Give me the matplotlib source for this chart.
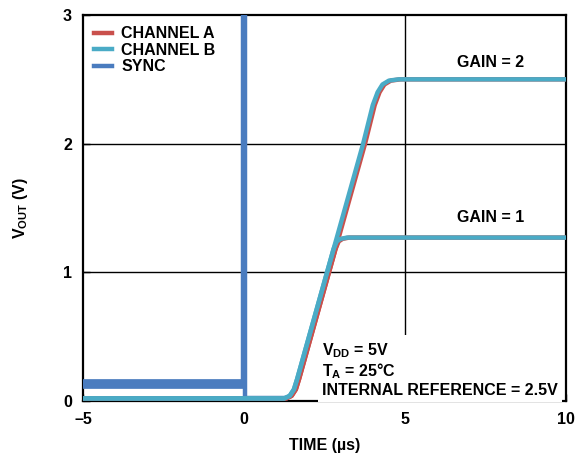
import matplotlib
matplotlib.use("Agg")
import matplotlib.pyplot as plt

plt.rcParams['font.family'] = ['Liberation Sans', 'DejaVu Sans']
plt.rcParams['font.weight'] = 'bold'
plt.rcParams['mathtext.fontset'] = 'custom'
plt.rcParams['mathtext.bf'] = 'Liberation Sans:bold'

# time (us) / voltage (V) breakpoints
sync_pre_t = [-5, -0.03]
sync_pre_v = [0.13, 0.13]
sync_t = [-0.02, -0.02, 0.02, 0.02, 1.3]
sync_v = [0.13, 3.0, 3.0, 0.02, 0.02]

gain2_t = [-5, 1.25, 1.42, 1.55, 1.65, 3.70, 4.00, 4.15, 4.30, 4.50, 4.80, 10]
gain2_v = [0.02, 0.02, 0.04, 0.09, 0.17, 2.00, 2.30, 2.40, 2.46, 2.49, 2.50, 2.50]

gain1_t = [-5, 1.25, 1.42, 1.55, 1.65, 2.78, 2.88, 3.00, 3.20, 10]
gain1_v = [0.02, 0.02, 0.04, 0.09, 0.17, 1.18, 1.24, 1.26, 1.27, 1.27]

lag_a = 0.06  # channel A trails channel B a little

col_a = "#c9504c"
col_b = "#4aabc6"
col_sync = "#4a7cbf"
fs = 11.5

fig = plt.figure(figsize=(5.83, 4.59), dpi=100)
ax = fig.add_axes([0.1424, 0.1264, 0.8284, 0.8409])

ax.plot(sync_pre_t, sync_pre_v, color=col_sync, lw=7, solid_capstyle="butt", zorder=3)
ax.plot(sync_t, sync_v, color=col_sync, lw=3.2, solid_joinstyle="miter", label="SYNC", zorder=3)
ax.plot([t + lag_a for t in gain2_t], gain2_v, color=col_a, lw=3.2, zorder=4)
ax.plot([t + lag_a for t in gain1_t], gain1_v, color=col_a, lw=3.2, label="CHANNEL A", zorder=4)
ax.plot(gain2_t, gain2_v, color=col_b, lw=3.2, zorder=5)
ax.plot(gain1_t, gain1_v, color=col_b, lw=3.2, label="CHANNEL B", zorder=5)

ax.set_xlim(-5, 10)
ax.set_ylim(0, 3)
ax.set_xticks([-5, 0, 5, 10])
ax.set_xticklabels(["\u20135", "0", "5", "10"])
ax.set_yticks([0, 1, 2, 3])
ax.tick_params(direction="in", length=5, width=1, labelsize=fs, pad=8)
for s in ax.spines.values():
    s.set_linewidth(1.6)

for x in [0, 5]:
    ax.axvline(x, color="black", lw=1, zorder=1)
for y in [1, 2]:
    ax.axhline(y, color="black", lw=1, zorder=1)

ax.set_xlabel("TIME (µs)", fontsize=fs, fontweight="bold", labelpad=8)
ax.set_ylabel(r"V$_{\mathbf{OUT}}$ (V)", fontsize=fs, fontweight="bold", labelpad=24)

handles, labels = ax.get_legend_handles_labels()
order = [labels.index("CHANNEL A"), labels.index("CHANNEL B"), labels.index("SYNC")]
leg = ax.legend([handles[i] for i in order], [labels[i] for i in order],
                loc="upper left", frameon=False, fontsize=fs, handlelength=1.1,
                handletextpad=0.6, labelspacing=0.1, borderaxespad=0.3)

ax.text(7.65, 2.63, "GAIN = 2", ha="center", va="center", fontsize=fs, fontweight="bold")
ax.text(7.65, 1.43, "GAIN = 1", ha="center", va="center", fontsize=fs, fontweight="bold")

ax.text(2.42, 0.025,
        "V$_{\\mathbf{DD}}$ = 5V\nT$_{\\mathbf{A}}$ = 25°C\nINTERNAL REFERENCE = 2.5V",
        ha="left", va="bottom", fontsize=fs, fontweight="bold", linespacing=1.12,
        bbox=dict(facecolor="white", edgecolor="none", pad=3), zorder=6)

fig.savefig("out.png", dpi=100)
